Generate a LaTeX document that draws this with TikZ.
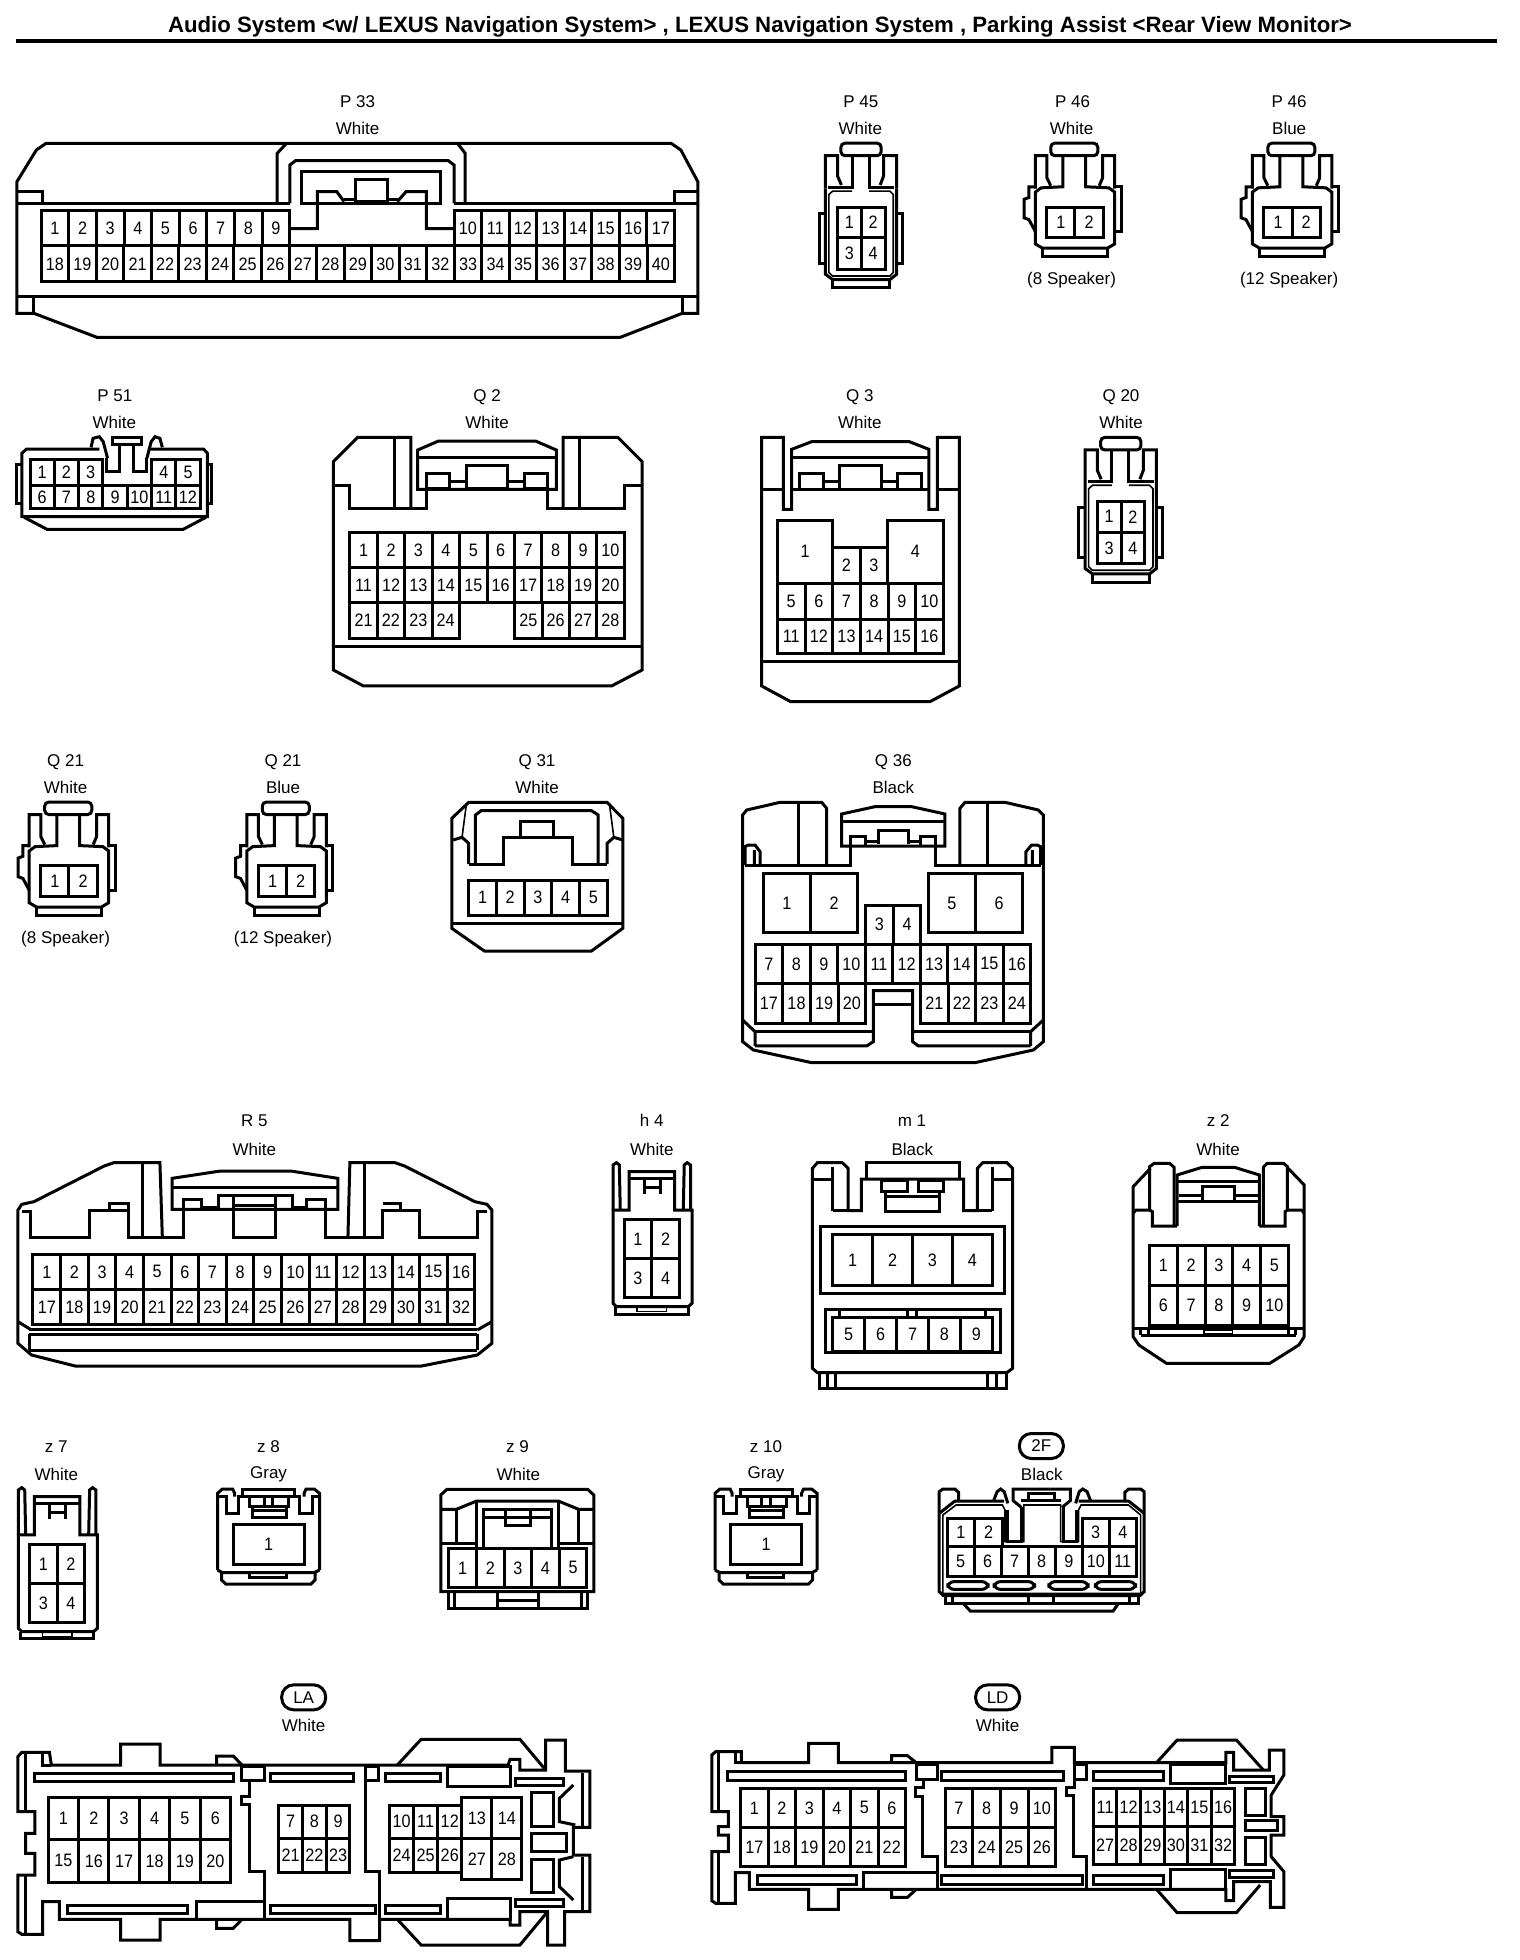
\documentclass[tikz,border=0pt]{standalone}
\usepackage{fontspec}
\setmainfont{Liberation Sans}
\newfontfamily\pinfont[FakeStretch=0.9]{Liberation Sans}
\tikzset{
  view/.style n args={4}{shift={(#1,#2)},x={0.5pt/#3},y={-0.5pt/#4}},
  conlabel/.style={font=\fontsize{8.5pt}{10pt}\selectfont,inner sep=0pt},
  pinlabel/.style={font=\pinfont\fontsize{9pt}{10pt}\selectfont,inner sep=0pt},
  titletext/.style={font=\bfseries\fontsize{11.1pt}{13pt}\selectfont,inner sep=0pt},
  badge/.style={draw,font=\fontsize{8.5pt}{10pt}\selectfont,line width=1.5pt,rounded corners=6pt,minimum width=22pt,minimum height=12.5pt,inner sep=0pt},
  thinline/.style={line width=0.8pt}
}
\newcommand{\pinrow}[7]{%
  \draw (#4,#5) rectangle (#6,#7);
  \foreach \k in {1,...,#3} {
    \pgfmathsetmacro\xl{#4+(#6-#4)/#3*(\k-1)}
    \pgfmathtruncatemacro\lab{#2+\k-1}
    \ifnum\k>1 \draw (\xl,#5) -- (\xl,#7); \fi
    \node[pinlabel] (#1-\lab) at ({\xl+(#6-#4)/#3/2},{(#5+#7)/2}) {\lab};
  }}
\newcommand{\fourpin}[1]{%
  \draw[rounded corners=2pt] (167,233) rectangle (250,268);
  \draw (135,360) -- (135,268) -- (160,268) -- (160,325) -- (168,350);
  \draw (282,360) -- (282,268) -- (255,268) -- (255,325) -- (248,350);
  \draw (190,268) -- (190,357) -- (140,357);
  \draw (225,268) -- (225,357) -- (277,357);
  \draw (135,360) -- (135,600) -- (150,615) -- (268,615) -- (282,600) -- (282,360);
  \draw[thinline] (190,367) -- (150,367) -- (142,377) -- (142,595) -- (150,605) -- (268,605) -- (275,595) -- (275,377) -- (268,367) -- (225,367);
  \draw (135,430) -- (122,430) -- (122,570) -- (135,570);
  \draw (282,430) -- (295,430) -- (295,570) -- (282,570);
  \draw (150,615) -- (150,638) -- (268,638) -- (268,615);
  \pinrow{#1}{1}{2}{160}{412}{258}{498}
  \pinrow{#1}{3}{2}{160}{498}{258}{587}
}
\newcommand{\twopin}[1]{%
  \draw[rounded corners=2pt] (600,233) rectangle (697,268);
  \draw (568,360) -- (568,268) -- (592,268) -- (592,330) -- (600,352);
  \draw (732,360) -- (732,268) -- (707,268) -- (707,330) -- (700,352);
  \draw (625,268) -- (625,355) -- (580,358) -- (568,370) -- (568,515) -- (583,527) -- (717,527) -- (732,515) -- (732,370) -- (720,358) -- (672,355) -- (672,268);
  \draw (568,355) -- (555,355) -- (555,385) -- (545,390) -- (545,442) -- (555,447) -- (568,480);
  \draw (732,355) -- (745,355) -- (745,480) -- (732,480);
  \draw (583,527) -- (583,550) -- (717,550) -- (717,527);
  \pinrow{#1}{1}{2}{592}{412}{708}{498}
}
\newcommand{\slimfour}[1]{%
  \draw (1265,300) -- (1265,165) -- (1272,158) -- (1278,165) -- (1280,300);
  \draw (1425,300) -- (1425,165) -- (1418,158) -- (1412,165) -- (1410,300);
  \draw (1265,300) -- (1265,580) -- (1272,590) -- (1420,590) -- (1428,580) -- (1428,300) -- (1392,300) -- (1392,185) -- (1298,185) -- (1298,300) -- cycle;
  \draw (1298,205) -- (1392,205) (1330,205) -- (1330,252) (1362,205) -- (1362,252) (1330,232) -- (1362,232);
  \draw (1270,590) -- (1270,612) -- (1420,612) -- (1420,590);
  \draw[thinline] (1315,592) rectangle (1375,605);
  \pinrow{#1}{1}{2}{1288}{328}{1402}{445}
  \pinrow{#1}{3}{2}{1288}{445}{1402}{563}
}
\newcommand{\capone}[1]{%
  \draw (533,420) -- (533,190) -- (545,177) -- (570,177) -- (575,190) -- (575,200);
  \draw (783,420) -- (783,190) -- (770,177) -- (750,177) -- (745,190) -- (745,200);
  \draw (533,420) -- (545,428) -- (770,428) -- (783,420);
  \draw (533,200) -- (555,200) -- (555,250) -- (585,250) -- (585,200) -- (735,200) -- (735,250) -- (765,250) -- (765,200) -- (783,200);
  \draw (595,200) -- (595,177) -- (722,177) -- (722,200);
  \draw (612,200) -- (612,230) -- (708,230) -- (708,200) (648,205) -- (648,225) (668,205) -- (668,225);
  \draw (618,230) -- (618,262) -- (702,262) -- (702,230) (618,240) -- (702,240);
  \pinrow{#1}{1}{1}{572}{283}{745}{402}
  \draw (543,428) -- (543,450) -- (553,462) -- (762,462) -- (772,450) -- (772,428);
  \draw (612,428) -- (612,442) -- (702,442) -- (702,428);
}
\begin{document}
\begin{tikzpicture}[x=0.5pt,y=-0.5pt,line width=1.5pt]
\useasboundingbox (0,0) rectangle (1520,1960);
\node[titletext] (title) at (760,27) {Audio System <w/ LEXUS Navigation System> , LEXUS Navigation System , Parking Assist <Rear View Monitor>};
\draw[line width=2pt] (16,41) -- (1497,41);

\begin{scope}[view={0}{0}{2.063}{3}]
\node[conlabel] (p33name) at (738,306) {P 33};
\node[conlabel] (p33color) at (738,385) {White};
\draw (35,545) -- (75,450) -- (95,430) -- (1385,430) -- (1405,450) -- (1440,545) -- (1440,940) -- (1408,940) -- (1280,1012) -- (200,1012) -- (70,940) -- (35,940) -- cycle;
\draw (35,610) -- (598,610) (937,610) -- (1440,610) (35,890) -- (1440,890);
\draw (35,575) -- (87,575) -- (87,610) (1440,575) -- (1392,575) -- (1392,610);
\draw (70,890) -- (70,940) (1408,890) -- (1408,940);
\draw (572,610) -- (572,460) -- (590,432) (960,610) -- (960,460) -- (945,432);
\draw (598,610) -- (598,495) -- (610,482) -- (925,482) -- (937,495) -- (937,610);
\draw (623,515) rectangle (910,610);
\draw (733,538) rectangle (800,605);
\draw (598,686) -- (655,686) -- (655,575) -- (695,575) -- (710,605);
\draw (937,686) -- (880,686) -- (880,575) -- (838,575) -- (820,605);
\draw (710,598) -- (733,598) (800,598) -- (825,598);
\pinrow{p33}{1}{9}{85}{632}{598}{738}
\pinrow{p33}{10}{8}{937}{632}{1392}{738}
\pinrow{p33}{18}{23}{85}{738}{1392}{845}
\end{scope}

\begin{scope}[view={760}{60}{2.063}{2.8}]
\node[conlabel] (p45name) at (208,118) {P 45};
\node[conlabel] (p45color) at (207,193) {White};
\fourpin{p45}
\node[conlabel] (p46wname) at (645,118) {P 46};
\node[conlabel] (p46wcolor) at (643,193) {White};
\node[conlabel] (p46wnote) at (643,617) {(8 Speaker)};
\twopin{p46w}
\node[conlabel] (p46bname) at (1092,118) {P 46};
\node[conlabel] (p46bcolor) at (1092,193) {Blue};
\node[conlabel] (p46bnote) at (1092,617) {(12 Speaker)};
\begin{scope}[shift={(448,0)}]\twopin{p46b}\end{scope}
\node[conlabel] (q3name) at (206,944) {Q 3};
\node[conlabel] (q3color) at (206,1016) {White};
\node[conlabel] (q20name) at (745,944) {Q 20};
\node[conlabel] (q20color) at (745,1016) {White};
\begin{scope}[shift={(536,824)}]\fourpin{q20}\end{scope}
\begin{scope}[shift={(-2076,1845)}]\twopin{q21w}\end{scope}
\begin{scope}[shift={(-1627,1845)}]\twopin{q21b}\end{scope}
\end{scope}

\begin{scope}[view={0}{370}{2.063}{3}]
\node[conlabel] (p51name) at (237,78) {P 51};
\node[conlabel] (p51color) at (236,158) {White};
\draw (205,237) -- (55,237) -- (45,250) -- (45,440) -- (428,440) -- (428,250) -- (420,237) -- (305,237);
\draw (50,442) -- (97,478) -- (378,478) -- (425,442);
\draw (45,283) -- (35,283) -- (35,402) -- (45,402) (428,283) -- (436,283) -- (436,402) -- (428,402);
\draw (188,232) -- (192,205) -- (205,200) -- (213,215) -- (222,265);
\draw (335,232) -- (330,205) -- (320,200) -- (312,215) -- (303,265);
\draw (232,202) rectangle (292,222);
\draw (220,265) -- (220,303) -- (247,303) -- (247,222) (275,222) -- (275,303) -- (303,303) -- (303,265);
\pinrow{p51}{1}{3}{62}{268}{212}{345}
\pinrow{p51}{4}{2}{313}{268}{413}{345}
\pinrow{p51}{6}{7}{62}{345}{413}{417}
\node[conlabel] (q2name) at (1005,81) {Q 2};
\node[conlabel] (q2color) at (1005,158) {White};
\draw (848,415) -- (848,202) -- (738,202) -- (688,275) -- (688,900) -- (750,948) -- (1262,948) -- (1325,900) -- (1325,275) -- (1275,202) -- (1162,202) -- (1162,415);
\draw (815,202) -- (815,415) (1195,202) -- (1195,415);
\draw (688,345) -- (722,345) -- (722,415) -- (880,415) -- (880,358);
\draw (1325,345) -- (1288,345) -- (1288,415) -- (1130,415) -- (1130,358);
\draw (688,830) -- (1325,830);
\draw (862,358) -- (862,240) -- (905,213) -- (1105,213) -- (1148,240) -- (1148,358) -- cycle;
\draw (862,262) -- (1148,262);
\draw (880,310) rectangle (928,355) (962,285) rectangle (1048,355) (1082,310) rectangle (1130,355);
\draw (928,335) -- (962,335) (1048,335) -- (1082,335);
\pinrow{q2}{1}{10}{722}{487}{1288}{593}
\pinrow{q2}{11}{10}{722}{593}{1288}{698}
\pinrow{q2}{21}{4}{722}{698}{948}{805}
\pinrow{q2}{25}{4}{1062}{698}{1288}{805}
\end{scope}

\begin{scope}[view={750}{430}{3}{3}]
\draw (100,178) -- (100,22) -- (35,22) -- (35,768) -- (122,815) -- (540,815) -- (628,768) -- (628,22) -- (562,22) -- (562,238) -- (537,238) -- (537,58) -- (478,35) -- (185,35) -- (125,58) -- (125,238) -- (100,238) -- (100,178);
\draw (35,178) -- (100,178) (125,178) -- (537,178) (562,178) -- (628,178);
\draw (125,82) -- (537,82) (35,695) -- (628,695);
\draw (148,178) -- (148,130) -- (220,130) -- (220,178) (268,178) -- (268,105) -- (395,105) -- (395,178) (442,178) -- (442,130) -- (515,130) -- (515,178);
\draw (220,155) -- (268,155) (395,155) -- (442,155);
\pinrow{q3}{1}{1}{82}{270}{248}{460}
\pinrow{q3}{4}{1}{413}{270}{580}{460}
\pinrow{q3}{2}{2}{248}{352}{413}{460}
\pinrow{q3}{5}{6}{82}{460}{580}{568}
\pinrow{q3}{11}{6}{82}{568}{580}{672}
\end{scope}

\begin{scope}[view={0}{740}{2.24}{3}]
\node[conlabel] (q21wname) at (147,66) {Q 21};
\node[conlabel] (q21wcolor) at (147,142) {White};
\node[conlabel] (q21wnote) at (147,598) {(8 Speaker)};
\node[conlabel] (q21bname) at (634,66) {Q 21};
\node[conlabel] (q21bcolor) at (634,142) {Blue};
\node[conlabel] (q21bnote) at (634,598) {(12 Speaker)};
\node[conlabel] (q31name) at (1203,66) {Q 31};
\node[conlabel] (q31color) at (1203,142) {White};
\draw (1012,235) -- (1050,187) -- (1360,187) -- (1395,235) -- (1395,565) -- (1325,633) -- (1085,633) -- (1012,565) -- cycle;
\draw (1012,550) -- (1395,550);
\draw (1065,372) -- (1065,225) -- (1078,212) -- (1325,212) -- (1340,225) -- (1340,372);
\draw (1050,372) -- (1128,372) -- (1128,292) -- (1282,292) -- (1282,372) -- (1360,372);
\draw (1165,292) -- (1165,243) -- (1240,243) -- (1240,292);
\draw (1015,300) -- (1035,292) -- (1050,310) -- (1050,372) (1395,300) -- (1375,292) -- (1360,310) -- (1360,372);
\draw[thinline] (1035,292) -- (1045,190) (1375,292) -- (1365,190);
\pinrow{q31}{1}{5}{1050}{420}{1360}{525}
\end{scope}

\begin{scope}[view={700}{740}{3}{3}]
\node[conlabel] (q36name) at (580,66) {Q 36};
\node[conlabel] (q36color) at (580,142) {Black};
\draw (380,375) -- (380,205) -- (365,187) -- (240,187) -- (140,210) -- (128,225) -- (128,905) -- (160,930) -- (335,968) -- (825,968) -- (1000,930) -- (1030,905) -- (1030,225) -- (1015,210) -- (915,187) -- (795,187) -- (780,205) -- (780,375);
\draw (295,187) -- (295,375) (862,187) -- (862,375);
\draw (135,375) -- (135,320) -- (145,315) -- (165,315) -- (180,335) -- (180,375) (163,330) -- (163,375);
\draw (1022,375) -- (1022,320) -- (1012,315) -- (995,315) -- (978,335) -- (978,375) (997,330) -- (997,375);
\draw (135,377) -- (450,377) -- (450,318) (708,318) -- (708,377) -- (1022,377);
\draw (425,318) -- (425,222) -- (525,200) -- (635,200) -- (735,222) -- (735,318) -- cycle;
\draw (425,243) -- (735,243);
\draw (450,318) -- (450,288) -- (497,288) -- (497,318) (535,313) -- (535,270) -- (627,270) -- (627,313) (662,318) -- (662,288) -- (708,288) -- (708,318);
\draw (497,305) -- (535,305) (627,305) -- (662,305);
\pinrow{q36}{1}{2}{190}{400}{473}{578}
\pinrow{q36}{5}{2}{685}{400}{968}{578}
\pinrow{q36}{3}{2}{497}{495}{663}{613}
\pinrow{q36}{7}{10}{165}{613}{992}{730}
\pinrow{q36}{17}{4}{165}{730}{497}{850}
\pinrow{q36}{21}{4}{662}{730}{992}{850}
\draw (165,918) -- (500,918) -- (520,905) -- (520,752) -- (638,752) -- (638,905) -- (655,918) -- (992,918);
\draw (520,795) -- (638,795) (165,875) -- (520,875) (638,875) -- (992,875);
\draw (165,875) -- (165,918) (992,875) -- (992,918) (128,840) -- (165,875) (1030,840) -- (992,875);
\end{scope}

\begin{scope}[view={0}{1110}{2.063}{3}]
\node[conlabel] (r5name) at (525,32) {R 5};
\node[conlabel] (r5color) at (525,117) {White};
\draw (335,382) -- (330,158) -- (235,158) -- (215,168) -- (70,275) -- (45,283) -- (37,300) -- (37,700) -- (65,735) -- (155,768) -- (870,768) -- (985,735) -- (1015,700) -- (1015,300) -- (1005,283) -- (980,275) -- (835,168) -- (815,158) -- (722,158) -- (718,382);
\draw (295,158) -- (295,382) (752,158) -- (752,382);
\draw (45,305) -- (62,305) -- (62,382) -- (185,382) -- (185,302) -- (265,302) -- (265,382) -- (378,382) -- (378,302);
\draw (672,302) -- (672,382) -- (790,382) -- (790,302) -- (865,302) -- (865,382) -- (985,382) -- (985,305) -- (1005,305);
\draw (225,302) -- (225,280) -- (265,280) -- (265,302) (790,280) -- (827,280) -- (827,302);
\draw (355,298) -- (355,205) -- (455,183) -- (600,183) -- (697,205) -- (697,298) -- cycle;
\draw (355,232) -- (697,232);
\draw (378,298) -- (378,268) -- (415,268) -- (415,298) (450,298) -- (450,255) -- (603,255) -- (603,298) (632,298) -- (632,268) -- (672,268) -- (672,298);
\draw (415,292) -- (450,292) (603,292) -- (632,292);
\draw (482,258) -- (482,382) -- (568,382) -- (568,258) (482,285) -- (568,285);
\pinrow{r5}{1}{16}{68}{433}{980}{538}
\pinrow{r5}{17}{16}{68}{538}{980}{643}
\draw (60,658) -- (985,658) (60,672) -- (985,672) (60,720) -- (985,720) (60,672) -- (60,720) (985,672) -- (985,720);
\draw (37,635) -- (65,660) (1015,635) -- (985,660);
\node[conlabel] (h4name) at (1345,32) {h 4};
\node[conlabel] (h4color) at (1345,117) {White};
\slimfour{h4}
\begin{scope}[shift={(-1227,975)}]\slimfour{z7}\end{scope}
\end{scope}

\begin{scope}[view={760}{1110}{2.613}{3}]
\node[conlabel] (m1name) at (397,33) {m 1};
\node[conlabel] (m1color) at (398,117) {Black};
\draw (137,175) -- (137,775) -- (150,788) -- (645,788) -- (660,775) -- (660,175) -- (645,158) -- (582,158) -- (568,175) -- (568,302) -- (532,302) -- (532,207) -- (265,207) -- (265,302) -- (230,302) -- (230,175) -- (215,158) -- (150,158) -- cycle;
\draw (190,302) -- (190,170) (607,302) -- (607,170) (190,302) -- (230,302) (568,302) -- (607,302);
\draw (137,208) -- (190,208) (607,208) -- (660,208);
\draw (278,207) -- (278,158) -- (520,158) -- (520,207);
\draw (318,212) rectangle (385,245) (413,212) rectangle (480,245);
\draw (328,245) -- (328,305) -- (470,305) -- (470,245) (328,260) -- (470,260);
\draw (157,348) rectangle (640,550);
\draw (170,597) rectangle (628,728);
\pinrow{m1}{1}{4}{190}{373}{607}{527}
\pinrow{m1}{5}{5}{190}{622}{607}{725}
\draw (207,597) -- (207,622) (385,597) -- (385,622) (410,597) -- (410,622) (590,597) -- (590,622);
\draw (155,788) -- (155,835) -- (643,835) -- (643,788);
\draw (177,788) -- (177,835) (198,788) -- (198,835) (595,788) -- (595,835) (618,788) -- (618,835);
\node[conlabel] (z2name) at (1197,33) {z 2};
\node[conlabel] (z2color) at (1197,117) {White};
\draw (1020,175) -- (975,230) -- (975,680) -- (990,705) -- (1062,760) -- (1332,760) -- (1408,705) -- (1422,680) -- (1422,225) -- (1380,175);
\draw (1090,348) -- (1025,348) -- (1025,305) -- (1018,300) -- (1018,170) -- (1030,160) -- (1070,160) -- (1082,172) -- (1082,348);
\draw (1305,348) -- (1372,348) -- (1372,305) -- (1378,300) -- (1378,170) -- (1368,160) -- (1325,160) -- (1315,172) -- (1315,348);
\draw (975,310) -- (982,300) -- (1018,300) (1378,300) -- (1415,300) -- (1422,310);
\draw (1090,348) -- (1090,195) -- (1155,172) -- (1240,172) -- (1305,195) -- (1305,348);
\draw (1090,215) -- (1305,215) (1092,275) -- (1305,275);
\draw (1155,228) rectangle (1240,275);
\draw (1095,255) -- (1155,255) (1240,255) -- (1300,255);
\pinrow{z2}{1}{5}{1018}{405}{1380}{527}
\pinrow{z2}{6}{5}{1018}{527}{1380}{645}
\draw (975,655) -- (1422,655) (995,675) -- (1400,675) (995,655) -- (995,675) (1015,655) -- (1015,675) (1380,655) -- (1380,675) (1400,655) -- (1400,675);
\draw[thinline] (1160,660) rectangle (1235,672);
\end{scope}

\begin{scope}[view={0}{1430}{2.45}{3}]
\node[conlabel] (z7name) at (138,50) {z 7};
\node[conlabel] (z7color) at (138,132) {White};
\node[conlabel] (z8name) at (658,50) {z 8};
\node[conlabel] (z8color) at (658,134) {Gray};
\capone{z8}
\node[conlabel] (z9name) at (1268,50) {z 9};
\node[conlabel] (z9color) at (1270,132) {White};
\draw (1080,485) -- (1080,195) -- (1095,178) -- (1440,178) -- (1455,195) -- (1455,485) -- cycle;
\draw (1080,238) -- (1118,238) -- (1168,213) -- (1368,213) -- (1418,238) -- (1455,238);
\draw (1118,238) -- (1118,340) (1418,238) -- (1418,340) (1080,340) -- (1168,340) (1368,340) -- (1455,340);
\draw (1168,213) -- (1168,350) (1368,213) -- (1368,350);
\draw (1185,350) -- (1185,238) -- (1352,238) -- (1352,350) (1185,262) -- (1352,262);
\draw (1238,238) -- (1238,285) -- (1300,285) -- (1300,238);
\pinrow{z9}{1}{5}{1100}{355}{1438}{472}
\draw (1098,485) -- (1098,535) -- (1440,535) -- (1440,485) (1113,485) -- (1113,535) (1425,485) -- (1425,535);
\draw (1220,485) -- (1220,535) (1320,485) -- (1320,535) (1220,510) -- (1320,510);
\begin{scope}[shift={(1219,0)}]\capone{z10}\end{scope}
\node[conlabel] (z10name) at (1877,50) {z 10};
\node[conlabel] (z10color) at (1877,134) {Gray};
\end{scope}

\begin{scope}[view={640}{1430}{2.8}{3}]
\node[badge] (ff) at (1124,48) {2F};
\node[conlabel] (ffcolor) at (1125,132) {Black};
\draw (892,213) -- (892,187) -- (882,177) -- (848,177) -- (838,185) -- (838,485) -- (850,497) -- (1400,497) -- (1412,485) -- (1412,185) -- (1402,177) -- (1368,177) -- (1358,187) -- (1358,213);
\draw (838,250) -- (882,213) -- (1020,213) (1412,250) -- (1368,213) -- (1228,213);
\draw[thinline] (848,490) -- (848,255) -- (885,225) -- (1015,225) -- (1022,240) -- (1022,335) -- (1075,335) -- (1075,225) -- (1178,225) -- (1178,335) -- (1228,335) -- (1228,240) -- (1235,225) -- (1368,225) -- (1402,255) -- (1402,490) -- cycle;
\draw (1030,240) -- (1030,335) -- (1068,335) -- (1068,232) (1185,232) -- (1185,335) -- (1222,335) -- (1222,240);
\draw (990,213) -- (1000,185) -- (1010,177) -- (1020,185) -- (1030,220);
\draw (1262,213) -- (1252,185) -- (1240,177) -- (1230,185) -- (1220,220);
\draw (1068,232) -- (1045,212) -- (1045,177) -- (1205,177) -- (1205,212) -- (1182,232);
\draw (1068,212) -- (1180,212);
\draw (1088,217) -- (1088,190) -- (1160,190) -- (1160,217);
\pinrow{ff}{1}{2}{860}{265}{1015}{350}
\pinrow{ff}{3}{2}{1238}{265}{1390}{350}
\pinrow{ff}{5}{7}{860}{350}{1390}{440}
\draw[rounded corners=3pt] (862,455) rectangle (975,478) (992,455) rectangle (1105,478) (1145,455) rectangle (1255,478) (1275,455) rectangle (1388,478);
\draw (855,497) -- (855,520) -- (1395,520) -- (1395,497) (875,497) -- (875,520) (1088,497) -- (1088,520) (1158,497) -- (1158,520) (1372,497) -- (1372,520);
\draw (905,520) -- (925,543) -- (1325,543) -- (1340,520);
\end{scope}

\begin{scope}[view={0}{1690}{2.529}{3}]
\node[badge] (la) at (768,22) {LA};
\node[conlabel] (lacolor) at (768,105) {White};
\draw (45,200) -- (45,365) -- (88,365) -- (88,430) -- (65,430) -- (65,490) -- (88,490) -- (88,555) -- (45,555) -- (45,725) -- (55,733) -- (108,733) -- (108,635) -- (150,635) -- (150,688) -- (305,688) -- (305,750) -- (405,750) -- (405,688) -- (885,688) -- (885,752) -- (960,752) -- (960,688) -- (1290,688) -- (1290,705) -- (1315,705) -- (1315,665) -- (1385,665) -- (1385,765) -- (1428,765) -- (1428,665) -- (1492,665) -- (1492,495) -- (1450,495) -- (1450,412) -- (1492,412) -- (1492,243) -- (1430,243) -- (1430,150) -- (1380,150) -- (1380,240) -- (1315,240) -- (1315,208) -- (1290,208) -- (1285,225) -- (405,225) -- (405,162) -- (305,162) -- (305,225) -- (130,225) -- (125,187) -- (55,187) -- cycle;
\draw (65,190) -- (65,362) (65,558) -- (65,730) (108,187) -- (108,225) -- (130,225);
\draw (548,225) -- (548,198) -- (590,198) -- (612,225) (548,688) -- (548,715) -- (590,715) -- (612,688);
\draw (1005,225) -- (1065,148) -- (1315,148) -- (1380,240) (1005,688) -- (1065,765) -- (1315,765) -- (1385,665);
\draw (88,250) rectangle (590,275) (683,250) rectangle (895,275) (975,250) rectangle (1115,275) (1132,228) rectangle (1290,290) (1305,265) rectangle (1425,287);
\draw (170,645) rectangle (475,670) (683,645) rectangle (950,670) (975,645) rectangle (1115,670) (1132,625) rectangle (1290,688) (1305,628) rectangle (1425,648);
\draw (612,228) rectangle (670,272) (925,228) rectangle (958,272);
\draw (632,272) -- (632,318) -- (612,318) -- (612,342) -- (632,342) -- (632,545) -- (670,545) -- (670,688);
\draw (925,272) -- (925,545) -- (960,545) -- (960,688) (498,688) -- (498,635) -- (670,635);
\pinrow{la}{1}{6}{122}{322}{583}{448}
\pinrow{la}{15}{6}{122}{448}{583}{577}
\pinrow{la}{7}{3}{705}{345}{885}{445}
\pinrow{la}{21}{3}{705}{445}{885}{547}
\pinrow{la}{10}{3}{985}{345}{1168}{445}
\pinrow{la}{24}{3}{985}{445}{1168}{547}
\pinrow{la}{13}{2}{1168}{322}{1320}{445}
\pinrow{la}{27}{2}{1168}{445}{1320}{568}
\draw (1345,307) rectangle (1400,410) (1345,430) rectangle (1432,485) (1345,507) rectangle (1400,607);
\draw (1450,285) -- (1415,325) -- (1415,395) -- (1455,405) (1450,630) -- (1415,590) -- (1415,510) -- (1450,500);
\draw (1472,250) -- (1472,410) (1472,500) -- (1472,660);
\end{scope}

\begin{scope}[view={690}{1690}{2.529}{3}]
\node[badge] (ld) at (778,22) {LD};
\node[conlabel] (ldcolor) at (778,105) {White};
\draw (55,195) -- (55,365) -- (97,365) -- (97,410) -- (72,410) -- (72,435) -- (97,435) -- (97,485) -- (55,485) -- (55,632) -- (65,640) -- (115,640) -- (115,548) -- (150,548) -- (150,598) -- (300,598) -- (300,658) -- (375,658) -- (375,598) -- (1355,598) -- (1355,632) -- (1375,632) -- (1375,575) -- (1468,575) -- (1468,652) -- (1502,652) -- (1502,545) -- (1470,500) -- (1470,435) -- (1502,435) -- (1502,380) -- (1470,380) -- (1470,315) -- (1502,255) -- (1502,180) -- (1465,180) -- (1465,240) -- (1375,240) -- (1375,187) -- (1355,187) -- (1355,218) -- (972,218) -- (972,172) -- (915,172) -- (915,218) -- (375,218) -- (375,160) -- (300,160) -- (300,218) -- (130,218) -- (130,185) -- (65,185) -- cycle;
\draw (72,190) -- (72,362) (72,488) -- (72,638) (115,185) -- (115,218) -- (130,218);
\draw (510,218) -- (510,197) -- (550,197) -- (572,218) (510,598) -- (510,622) -- (550,622) -- (572,598);
\draw (1180,218) -- (1232,150) -- (1382,150) -- (1450,240) (1180,598) -- (1232,668) -- (1382,668) -- (1442,585);
\draw (95,245) rectangle (545,270) (635,245) rectangle (945,270) (1020,245) rectangle (1198,270) (1215,222) rectangle (1355,280) (1365,258) rectangle (1475,278);
\draw (170,555) rectangle (420,582) (635,555) rectangle (992,582) (1020,555) rectangle (1198,582) (1215,538) rectangle (1355,598) (1365,540) rectangle (1475,562);
\draw (572,222) rectangle (625,268) (972,222) rectangle (1003,268);
\draw (590,268) -- (590,292) -- (570,292) -- (570,318) -- (587,318) -- (587,500) -- (625,500) -- (625,598);
\draw (972,268) -- (972,292) -- (953,292) -- (953,315) -- (970,315) -- (970,500) -- (1003,500) -- (1003,598);
\draw (440,598) -- (440,548) -- (625,548);
\pinrow{ld}{1}{6}{128}{295}{545}{412}
\pinrow{ld}{17}{6}{128}{412}{545}{530}
\pinrow{ld}{7}{4}{645}{295}{925}{412}
\pinrow{ld}{23}{4}{645}{412}{925}{530}
\pinrow{ld}{11}{6}{1020}{295}{1378}{408}
\pinrow{ld}{27}{6}{1020}{408}{1378}{522}
\draw (1405,295) rectangle (1455,375) (1405,392) rectangle (1487,422) (1405,442) rectangle (1455,522);
\end{scope}
\end{tikzpicture}
\end{document}
